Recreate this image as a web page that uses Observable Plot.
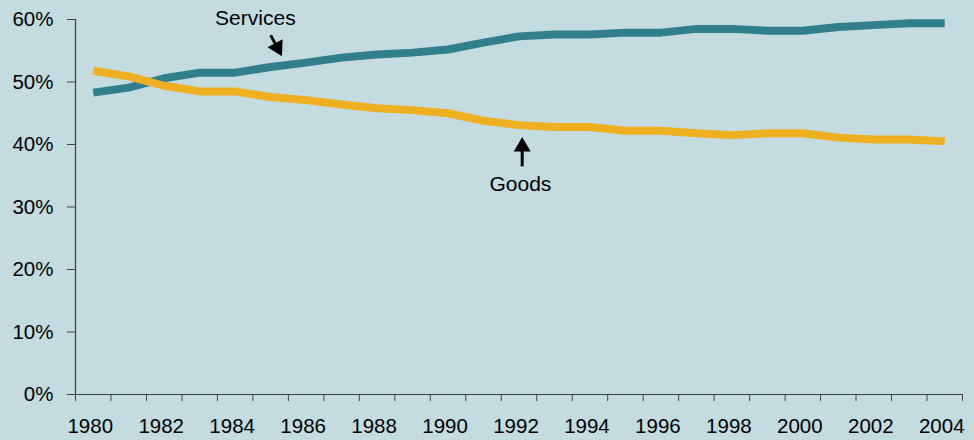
<!DOCTYPE html>
<html>
<head>
<meta charset="utf-8">
<script src="https://cdn.jsdelivr.net/npm/d3@7"></script>
<script src="https://cdn.jsdelivr.net/npm/@observablehq/plot@0.6"></script>
<style>
  html, body { margin: 0; padding: 0; background: #c4dce0; }
  #chart { width: 974px; height: 440px; }
</style>
</head>
<body>
<div id="chart"></div>
<script>
const years = [1980,1981,1982,1983,1984,1985,1986,1987,1988,1989,1990,1991,1992,1993,1994,1995,1996,1997,1998,1999,2000,2001,2002,2003,2004];
const services = [48.3,49.1,50.6,51.5,51.5,52.4,53.1,53.9,54.4,54.7,55.2,56.3,57.3,57.6,57.6,57.9,57.9,58.5,58.5,58.2,58.2,58.8,59.1,59.4,59.4];
const goods = [51.8,50.9,49.4,48.5,48.5,47.6,47.1,46.4,45.8,45.5,45.0,43.8,43.1,42.8,42.8,42.2,42.2,41.8,41.5,41.8,41.8,41.1,40.8,40.8,40.5];
const yTicks = [0,10,20,30,40,50,60];
const xLabelYears = [1980,1982,1984,1986,1988,1990,1992,1994,1996,1998,2000,2002,2004];
const categoryEdges = [1979.5,1980.5,1981.5,1982.5,1983.5,1984.5,1985.5,1986.5,1987.5,1988.5,1989.5,1990.5,1991.5,1992.5,1993.5,1994.5,1995.5,1996.5,1997.5,1998.5,1999.5,2000.5,2001.5,2002.5,2003.5,2004.5];

// annotations (data coordinates)
const labels = [
  {name: "Services", x: 1984.57, y: 60.15},
  {name: "Goods", x: 1992.04, y: 33.7}
];
const arrowShafts = [
  {x1: 1985.0, y1: 57.5, x2: 1985.19, y2: 55.5},
  {x1: 1992.09, y1: 36.5, x2: 1992.09, y2: 39.65}
];
const arrowHeads = [
  {x: 1985.19, y: 55.5, angle: 152},
  {x: 1992.09, y: 39.65, angle: 0}
];

const colors = {Services: "#317f8a", Goods: "#eeaf20"};
const table = [];
years.forEach((yr, i) => {
  table.push({year: yr, series: "Services", value: services[i]});
  table.push({year: yr, series: "Goods", value: goods[i]});
});

const chart = Plot.plot({
  width: 974,
  height: 440,
  marginLeft: 75,
  marginRight: 12,
  marginTop: 19,
  marginBottom: 46,
  style: {background: "#c4dce0", fontFamily: "'Liberation Sans', Arial, sans-serif", fontSize: "20px", color: "#000", overflow: "visible"},
  x: {domain: [1979.5, 2004.5]},
  y: {domain: [0, 60]},
  marks: [
    Plot.axisY(yTicks, {tickSize: 8, tickPadding: 14, tickFormat: d => d + "%", stroke: "#404040", fill: "#000", fontSize: 20.5}),
    Plot.axisX(categoryEdges, {tickSize: 7, tickFormat: () => "", stroke: "#404040"}),
    Plot.axisX(xLabelYears, {tickSize: 0, tickPadding: 24, tickFormat: d => String(d), fill: "#000", fontSize: 20.5, dx: -3}),
    Plot.ruleX([1979.5], {stroke: "#404040", strokeWidth: 1.2}),
    Plot.ruleY([0], {stroke: "#404040", strokeWidth: 1.2}),
    Plot.line(table, {x: "year", y: "value", z: "series", stroke: d => colors[d.series], strokeWidth: 8, strokeLinecap: "butt", strokeLinejoin: "round"}),
    Plot.link(arrowShafts, {x1: "x1", y1: "y1", x2: "x2", y2: "y2", stroke: "#000", strokeWidth: 3}),
    Plot.dot(arrowHeads, {x: "x", y: "y", symbol: "triangle", r: 6.3, fill: "#000", stroke: "none", rotate: "angle"}),
    Plot.text(labels, {x: "x", y: "y", text: "name", fill: "#000", fontSize: 21})
  ]
});
document.getElementById("chart").appendChild(chart);
</script>
</body>
</html>
